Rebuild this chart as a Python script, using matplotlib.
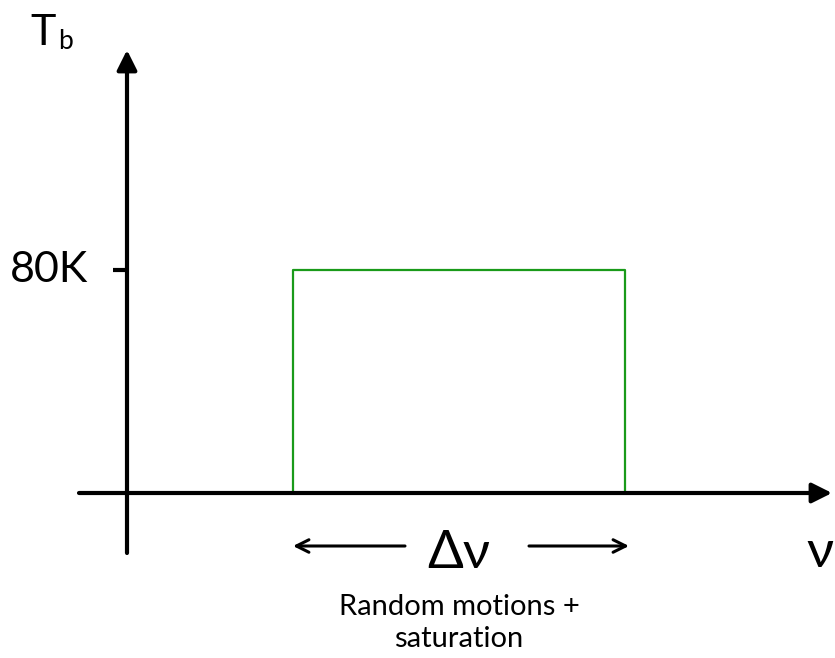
import matplotlib.pyplot as plt

# data: the velocity window and brightness temperature
box_left = 166
box_right = 498
t_b = 80
tick_values = [80]
tick_labels = ["80K"]

fig = plt.figure(figsize=(8.35, 6.58), dpi=100)
ax = fig.add_axes([0, 0, 1, 1])
px = 223 / 80.0  # pixels per K


def ypix(p):
    # convert a pixel row to data y
    return (493 - p) / px


ax.set_xlim(-127, 708)
ax.set_ylim(ypix(658), ypix(0))
ax.axis("off")

head = "-|>,head_length=1.2,head_width=0.6"
# axes arrows
ax.annotate("", xy=(705, 0), xytext=(-48, 0),
            arrowprops=dict(arrowstyle=head, lw=3, color="black",
                            shrinkA=0, shrinkB=0))
ax.annotate("", xy=(0, ypix(50)), xytext=(0, ypix(553)),
            arrowprops=dict(arrowstyle=head, lw=3, color="black",
                            shrinkA=0, shrinkB=0))

# tick + label
for v, lab in zip(tick_values, tick_labels):
    ax.plot([-14, 0], [v, v], color="black", lw=3, solid_capstyle="butt")
    ax.text(-39, v, lab, fontsize=31, family="Lato", ha="right", va="center")

# green box
ax.plot([box_left, box_left, box_right, box_right, box_left],
        [0, t_b, t_b, 0, 0], color="#1a9a1a", lw=1.6, zorder=1)

# axis labels
ax.text(30 - 127, ypix(45), "T", fontsize=31, family="Lato",
        va="baseline", ha="left")
ax.text(58 - 127, ypix(49), "b", fontsize=19, family="Lato",
        va="baseline", ha="left")
ax.text(834 - 127, ypix(567), "ν", fontsize=38, family="Lato",
        va="baseline", ha="right")

# delta v
mid = (box_left + box_right) / 2
ax.text(459 - 127, ypix(568), "Δν", fontsize=38, family="Lato",
        ha="center", va="baseline")
small = "->,head_length=0.9,head_width=0.45"
ax.annotate("", xy=(box_left, ypix(546)), xytext=(405 - 127, ypix(546)),
            arrowprops=dict(arrowstyle=small, lw=2.2, color="black",
                            shrinkA=0, shrinkB=0))
ax.annotate("", xy=(box_right + 4, ypix(546)), xytext=(529 - 127, ypix(546)),
            arrowprops=dict(arrowstyle=small, lw=2.2, color="black",
                            shrinkA=0, shrinkB=0))

ax.text(mid, ypix(615), "Random motions +", fontsize=21,
        family="Lato", ha="center", va="baseline")
ax.text(mid, ypix(647), "saturation", fontsize=21,
        family="Lato", ha="center", va="baseline")

fig.savefig("out.png", dpi=100)
